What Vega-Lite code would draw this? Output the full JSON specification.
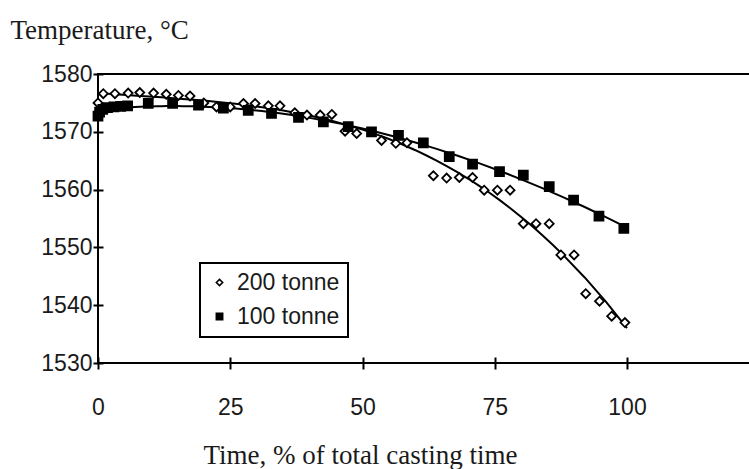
{
  "$schema": "https://vega.github.io/schema/vega-lite/v6.json",
  "width": 652,
  "height": 289,
  "autosize": {"type": "none"},
  "padding": {"left": 98, "top": 74, "right": -1, "bottom": 106},
  "background": "white",
  "config": {
    "view": {"stroke": "black", "strokeWidth": 2},
    "axis": {
      "labelFont": "Liberation Sans",
      "labelFontSize": 23,
      "labelColor": "#1a1a1a",
      "tickColor": "black",
      "tickWidth": 2,
      "domain": false,
      "grid": false,
      "labelFlush": false,
      "titleFont": "Liberation Serif",
      "titleFontSize": 27,
      "titleFontWeight": "normal",
      "titleColor": "#1a1a1a"
    },
    "legend": {
      "labelFont": "Liberation Sans",
      "labelFontSize": 23,
      "labelColor": "#1a1a1a",
      "strokeColor": "black",
      "strokeWidth": 2,
      "padding": 8,
      "rowPadding": 10,
      "labelOffset": 6,
      "symbolSize": 40,
      "symbolStrokeWidth": 1.6,
      "symbolStrokeColor": "black"
    }
  },
  "data": {
    "values": [
      {"series": "200 tonne", "t": 0, "temp": 1575.0},
      {"series": "200 tonne", "t": 1.0, "temp": 1576.6},
      {"series": "200 tonne", "t": 3.2, "temp": 1576.6},
      {"series": "200 tonne", "t": 5.7, "temp": 1576.7},
      {"series": "200 tonne", "t": 7.9, "temp": 1576.8},
      {"series": "200 tonne", "t": 10.5, "temp": 1576.7},
      {"series": "200 tonne", "t": 12.9, "temp": 1576.5},
      {"series": "200 tonne", "t": 15.2, "temp": 1576.3},
      {"series": "200 tonne", "t": 17.4, "temp": 1576.2},
      {"series": "200 tonne", "t": 20.0, "temp": 1575.0},
      {"series": "200 tonne", "t": 22.4, "temp": 1574.3},
      {"series": "200 tonne", "t": 25.0, "temp": 1574.3},
      {"series": "200 tonne", "t": 27.5, "temp": 1574.9},
      {"series": "200 tonne", "t": 29.7, "temp": 1574.9},
      {"series": "200 tonne", "t": 32.2, "temp": 1574.5},
      {"series": "200 tonne", "t": 34.4, "temp": 1574.5},
      {"series": "200 tonne", "t": 37.2, "temp": 1573.3},
      {"series": "200 tonne", "t": 39.5, "temp": 1572.9},
      {"series": "200 tonne", "t": 42.0, "temp": 1572.9},
      {"series": "200 tonne", "t": 44.2, "temp": 1573.0},
      {"series": "200 tonne", "t": 46.7, "temp": 1570.1},
      {"series": "200 tonne", "t": 48.9, "temp": 1569.7},
      {"series": "200 tonne", "t": 53.6, "temp": 1568.5},
      {"series": "200 tonne", "t": 56.3, "temp": 1568.0},
      {"series": "200 tonne", "t": 58.4, "temp": 1568.1},
      {"series": "200 tonne", "t": 63.4, "temp": 1562.4},
      {"series": "200 tonne", "t": 65.9, "temp": 1562.0},
      {"series": "200 tonne", "t": 68.3, "temp": 1562.1},
      {"series": "200 tonne", "t": 70.8, "temp": 1562.1},
      {"series": "200 tonne", "t": 73.0, "temp": 1559.9},
      {"series": "200 tonne", "t": 75.5, "temp": 1559.9},
      {"series": "200 tonne", "t": 77.9, "temp": 1559.9},
      {"series": "200 tonne", "t": 80.4, "temp": 1554.1},
      {"series": "200 tonne", "t": 82.8, "temp": 1554.1},
      {"series": "200 tonne", "t": 85.3, "temp": 1554.1},
      {"series": "200 tonne", "t": 87.5, "temp": 1548.7},
      {"series": "200 tonne", "t": 90.0, "temp": 1548.7},
      {"series": "200 tonne", "t": 92.2, "temp": 1542.0},
      {"series": "200 tonne", "t": 94.8, "temp": 1540.7},
      {"series": "200 tonne", "t": 97.1, "temp": 1538.1},
      {"series": "200 tonne", "t": 99.6, "temp": 1537.0},
      {"series": "100 tonne", "t": 0, "temp": 1572.7},
      {"series": "100 tonne", "t": 0.3, "temp": 1573.4},
      {"series": "100 tonne", "t": 0.9, "temp": 1573.9},
      {"series": "100 tonne", "t": 1.8, "temp": 1574.2},
      {"series": "100 tonne", "t": 3.0, "temp": 1574.3},
      {"series": "100 tonne", "t": 4.3, "temp": 1574.4},
      {"series": "100 tonne", "t": 5.6, "temp": 1574.5},
      {"series": "100 tonne", "t": 9.5, "temp": 1574.9},
      {"series": "100 tonne", "t": 14.1, "temp": 1574.9},
      {"series": "100 tonne", "t": 19.0, "temp": 1574.6},
      {"series": "100 tonne", "t": 23.7, "temp": 1574.1},
      {"series": "100 tonne", "t": 28.4, "temp": 1573.7},
      {"series": "100 tonne", "t": 32.8, "temp": 1573.2},
      {"series": "100 tonne", "t": 37.9, "temp": 1572.5},
      {"series": "100 tonne", "t": 42.6, "temp": 1571.7},
      {"series": "100 tonne", "t": 47.3, "temp": 1570.9},
      {"series": "100 tonne", "t": 51.7, "temp": 1570.0},
      {"series": "100 tonne", "t": 56.8, "temp": 1569.4},
      {"series": "100 tonne", "t": 61.5, "temp": 1568.1},
      {"series": "100 tonne", "t": 66.4, "temp": 1565.7},
      {"series": "100 tonne", "t": 70.8, "temp": 1564.4},
      {"series": "100 tonne", "t": 75.9, "temp": 1563.1},
      {"series": "100 tonne", "t": 80.4, "temp": 1562.5},
      {"series": "100 tonne", "t": 85.3, "temp": 1560.5},
      {"series": "100 tonne", "t": 89.9, "temp": 1558.2},
      {"series": "100 tonne", "t": 94.7, "temp": 1555.4},
      {"series": "100 tonne", "t": 99.4, "temp": 1553.3}
    ]
  },
  "encoding": {
    "x": {
      "field": "t",
      "type": "quantitative",
      "scale": {"domain": [0, 123.25], "nice": false, "zero": false},
      "axis": {
        "values": [0, 25, 50, 75, 100],
        "offset": -6,
        "tickSize": 12,
        "labelPadding": 27,
        "title": "Time, % of total casting time",
        "titleX": 262,
        "titleY": 106,
        "titleAlign": "center",
        "titleBaseline": "alphabetic"
      }
    },
    "y": {
      "field": "temp",
      "type": "quantitative",
      "scale": {"domain": [1530, 1580], "nice": false, "zero": false},
      "axis": {
        "values": [1530, 1540, 1550, 1560, 1570, 1580],
        "format": "d",
        "offset": -5,
        "tickSize": 10,
        "labelPadding": 1,
        "title": "Temperature, °C",
        "titleAngle": 0,
        "titleAlign": "left",
        "titleBaseline": "alphabetic",
        "titleX": -93,
        "titleY": -36
      }
    }
  },
  "layer": [
    {
      "transform": [
        {"regression": "temp", "on": "t", "groupby": ["series"], "method": "poly", "order": 3, "extent": [0, 100]}
      ],
      "mark": {"type": "line", "color": "black", "strokeWidth": 2},
      "encoding": {"detail": {"field": "series"}}
    },
    {
      "mark": {"type": "point", "filled": true, "strokeWidth": 1.8, "size": 80, "opacity": 1, "fillOpacity": 1, "strokeOpacity": 1},
      "encoding": {
        "shape": {
          "field": "series",
          "type": "nominal",
          "scale": {"domain": ["200 tonne", "100 tonne"], "range": ["diamond", "square"]},
          "legend": {"orient": "none", "legendX": 102, "legendY": 189, "title": null}
        },
        "fill": {
          "field": "series",
          "type": "nominal",
          "scale": {"domain": ["200 tonne", "100 tonne"], "range": ["white", "black"]},
          "legend": {"orient": "none", "legendX": 102, "legendY": 189, "title": null}
        },
        "stroke": {
          "field": "series",
          "type": "nominal",
          "scale": {"domain": ["200 tonne", "100 tonne"], "range": ["black", "black"]},
          "legend": {"orient": "none", "legendX": 102, "legendY": 189, "title": null}
        }
      }
    }
  ]
}
